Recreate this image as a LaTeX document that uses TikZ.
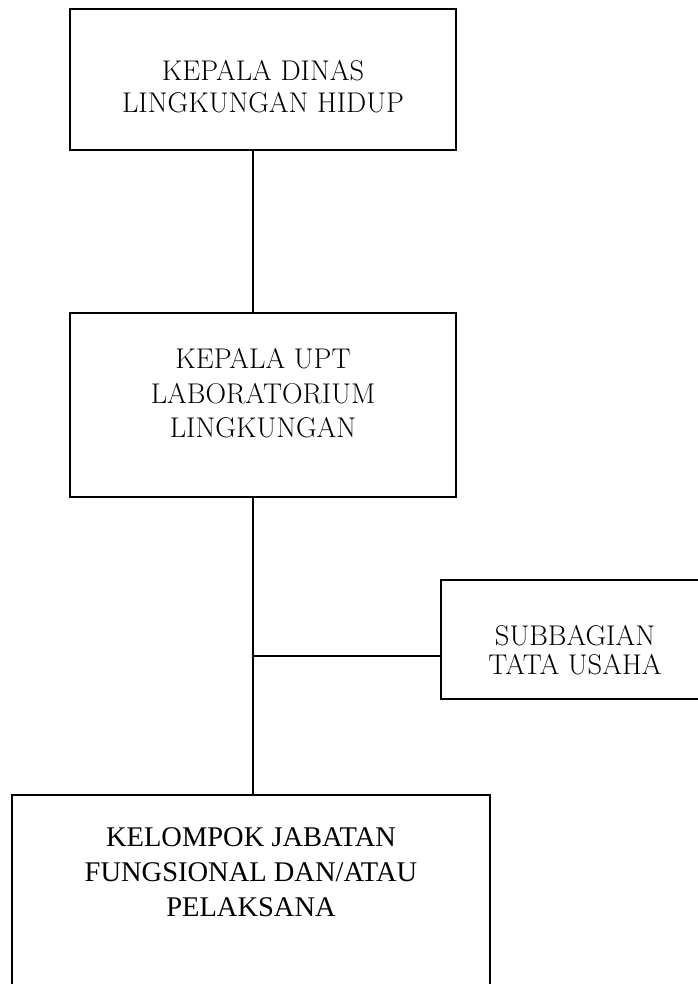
\documentclass[tikz,border=0pt]{standalone}
\usepackage{fontspec}
\newfontfamily\timesfont{Liberation Serif}
% box of fixed size, text starts #3 below its top
\newcommand\boxtext[4]{\begin{minipage}[c][#2][t]{#1}\centering\vspace*{#3}#4\end{minipage}}
\begin{document}
\begin{tikzpicture}[x=1pt,y=-1pt,
  unitbox/.style={draw=black,line width=1.6pt,inner sep=0pt},
  link/.style={draw=black,line width=1.6pt}]
\useasboundingbox (0,0) rectangle (697,984);
\coordinate (spine) at (253,656);
% boxes
\node[unitbox] (kadis) at (263,79.5)
  {\boxtext{386pt}{141pt}{51.5pt}{\fontsize{28.5}{32}\selectfont KEPALA DINAS\\LINGKUNGAN HIDUP}};
\node[unitbox] (kaupt) at (263,405)
  {\boxtext{386pt}{184pt}{35.5pt}{\fontsize{28.5}{34.5}\selectfont KEPALA UPT\\LABORATORIUM\\LINGKUNGAN}};
\node[unitbox] (tu) at (575,639.5)
  {\boxtext{268pt}{119pt}{45.5pt}{\fontsize{28.5}{29}\selectfont SUBBAGIAN\\TATA USAHA}};
\node[unitbox] (jf) at (251,900)
  {\boxtext{478pt}{210pt}{33pt}{\timesfont\fontsize{28.5}{35}\selectfont KELOMPOK JABATAN\\FUNGSIONAL DAN/ATAU\\PELAKSANA}};
% connectors
\draw[link] (kadis.south -| spine) -- (kaupt.north -| spine);
\draw[link] (kaupt.south -| spine) -- (jf.north -| spine);
\draw[link] (spine) -- (spine -| tu.west);
\end{tikzpicture}
\end{document}
